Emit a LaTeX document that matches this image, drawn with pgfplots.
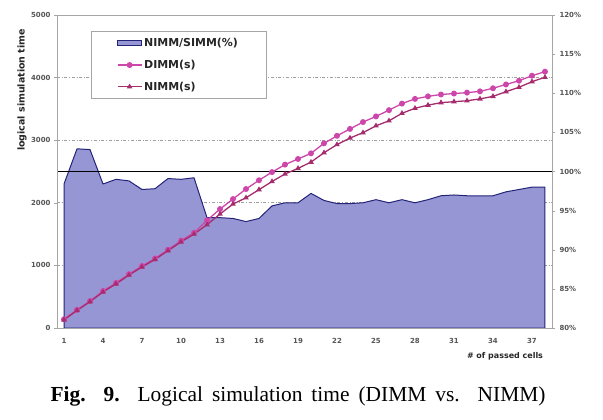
\documentclass[border=0pt]{standalone}
\usepackage{pgfplots}
\pgfplotsset{compat=1.18}
\usepackage{fontspec}
\setmainfont{Liberation Serif}
\newfontfamily\axfont{DejaVu Sans}
\definecolor{areafill}{RGB}{150,150,212}
\definecolor{areaedge}{RGB}{35,35,120}
\definecolor{dimmc}{RGB}{205,70,170}
\definecolor{nimmc}{RGB}{165,45,110}
\definecolor{framec}{RGB}{165,165,165}
\definecolor{tickc}{RGB}{85,85,85}
\pgfplotsset{
  arealeg/.style={legend image code/.code={\draw[##1] (0cm,-0.09cm) rectangle (0.84cm,0.09cm);}},
  lineleg/.style={legend image code/.code={\draw[mark repeat=2,mark phase=2,##1] plot coordinates {(0cm,0cm) (0.42cm,0cm) (0.84cm,0cm)};}},
}
\pgfplotstableread{
x pct
1 98.4
2 102.9
3 102.8
4 98.4
5 99.0
6 98.8
7 97.7
8 97.8
9 99.1
10 99.0
11 99.2
12 94.1
13 94.1
14 94.0
15 93.6
16 94.0
17 95.6
18 96.0
19 96.0
20 97.2
21 96.3
22 95.9
23 95.9
24 96.0
25 96.4
26 96.0
27 96.4
28 96.0
29 96.4
30 96.9
31 97.0
32 96.9
33 96.9
34 96.9
35 97.4
36 97.7
37 98.0
38 98.0
}\ratiodata
\pgfplotstableread{
x dimm nimm
1 140 130
2 290 280
3 430 420
4 590 575
5 720 705
6 860 845
7 990 975
8 1110 1095
9 1250 1235
10 1395 1375
11 1520 1500
12 1720 1650
13 1900 1820
14 2060 1980
15 2220 2080
16 2360 2210
17 2490 2340
18 2610 2460
19 2700 2550
20 2790 2650
21 2950 2800
22 3070 2930
23 3180 3035
24 3290 3120
25 3380 3230
26 3480 3310
27 3585 3430
28 3660 3510
29 3700 3560
30 3730 3600
31 3745 3615
32 3760 3630
33 3780 3660
34 3830 3700
35 3890 3775
36 3950 3845
37 4030 3935
38 4095 4005
}\timedata
\begin{document}
\begin{tikzpicture}
\useasboundingbox (0,0) rectangle (603bp,420bp);
\pgfplotsset{
  common/.style={
    at={(57bp,92bp)}, anchor=south west,
    width=495bp, height=313bp, scale only axis,
    xmin=0.46, xmax=38.54,
    /pgf/number format/assume math mode=true,
    /pgf/number format/1000 sep={},
    tick label style={font=\axfont\bfseries\fontsize{7}{8}\selectfont, text=tickc},
    axis line style={framec, line width=0.8pt},
    tick style={framec},
    tick align=outside,
  }
}
\begin{axis}[common,
  ymin=80, ymax=120,
  ytick={80,85,...,120},
  yticklabel={\pgfmathprintnumber{\tick}\%},
  ytick pos=right,
  xtick={1,4,...,37},
  xtick pos=left,
  xtick style={draw=none},
  major tick length=3bp,
  extra y ticks={88,96,104,112},
  extra y tick labels={},
  extra y tick style={grid=major, major tick length=0pt,
     major grid style={gray!75, dash dot, line width=0.6pt}},
  xticklabel style={yshift=-4bp},
  yticklabel style={xshift=1bp},
]
\addplot[fill=areafill, draw=areaedge, line width=1pt, line join=round]
  table[x=x,y=pct] {\ratiodata} |- (axis cs:1,80) -- cycle;
\addplot[black, line width=1.8pt] coordinates {(0.46,100) (38.54,100)};
\end{axis}
\begin{axis}[common,
  ymin=0, ymax=5000,
  ytick={0,1000,...,5000},
  ytick pos=left,
  axis x line=none,
  major tick length=3bp,
  legend style={at={(0.068,0.949)}, anchor=north west, draw=framec, fill=white,
     font=\axfont\bfseries\fontsize{11}{13}\selectfont, text=black!85,
     inner xsep=26bp, inner ysep=5bp, row sep=8bp, line width=0.8pt},
  legend cell align=left,
]
\addlegendimage{arealeg, fill=areafill, draw=areaedge, line width=0.8pt}
\addlegendentry{NIMM/SIMM(\%)}
\addplot[lineleg, dimmc, line width=1.3pt, mark=*, mark size=2.3pt] table[x=x,y=dimm] {\timedata};
\addlegendentry{DIMM(s)}
\addplot[lineleg, nimmc, line width=1.3pt, mark=triangle*, mark size=2pt] table[x=x,y=nimm] {\timedata};
\addlegendentry{NIMM(s)}
\end{axis}
\node[rotate=90, font=\axfont\bfseries\fontsize{9.5}{11}\selectfont, text=black!85] at (22bp,330bp) {logical simulation time};
\node[font=\axfont\bfseries\fontsize{8}{10}\selectfont, text=black!85] at (505bp,64bp) {\# of passed cells};
\node[anchor=base, inner sep=0pt] at (298bp,19bp) {\makebox[495bp][s]{\fontsize{21.5}{24}\selectfont\textbf{Fig. 9.} Logical simulation time (DIMM vs. NIMM)}};
\end{tikzpicture}
\end{document}
